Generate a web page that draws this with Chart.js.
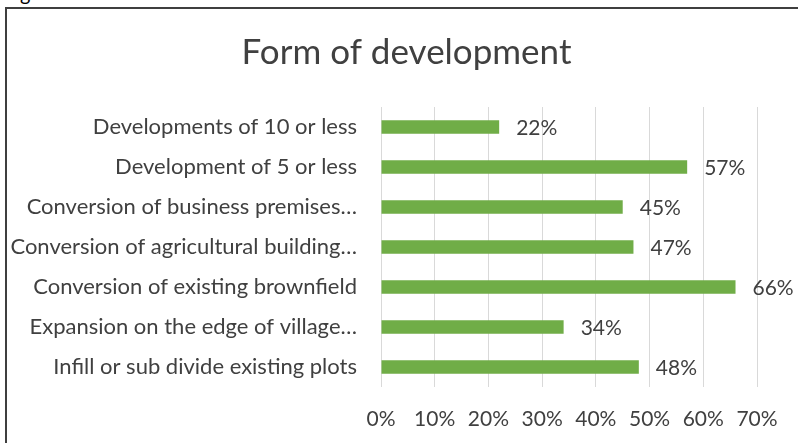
<!DOCTYPE html>
<html>
<head>
<meta charset="utf-8">
<script src="https://cdn.jsdelivr.net/npm/chart.js@4.4.1/dist/chart.umd.min.js"></script>
<style>
    html, body { margin: 0; padding: 0; background: #fff; overflow: hidden; }
    body { width: 798px; height: 443px; position: relative; }
    #frame {
        position: absolute; left: 5px; top: 7px; width: 820px; height: 460px;
        border: 2px solid #3f3f3f; box-sizing: border-box; pointer-events: none;
    }
    #caption {
        position: absolute; left: 20px; top: -19px; font-family: Lato, sans-serif;
        font-size: 20px; color: #000;
    }
    #formChart { position: absolute; left: 0; top: 0; }
</style>
</head>
<body>
<div id="caption">g</div>
<div id="frame"></div>
<canvas id="formChart" width="813" height="443"></canvas>
<script>
const categories = [
    "Developments of 10 or less",
    "Development of 5 or less",
    "Conversion of business premises…",
    "Conversion of agricultural building…",
    "Conversion of existing brownfield",
    "Expansion on the edge of village…",
    "Infill or sub divide existing plots"
];
const shares = [0.22, 0.57, 0.45, 0.47, 0.66, 0.34, 0.48];
const axisMax = 0.7;
const chartTitle = "Form of development";

const textColor = "#404040";
const fontFamily = "Lato, 'Open Sans', sans-serif";

// title centred on the whole frame, not just the padded area
const frameTitle = {
    id: "frameTitle",
    afterDraw(chart) {
        const ctx = chart.ctx;
        ctx.save();
        ctx.font = "35px " + fontFamily;
        ctx.fillStyle = textColor;
        ctx.textAlign = "center";
        ctx.textBaseline = "alphabetic";
        ctx.fillText(chartTitle, chart.width / 2, 64);
        ctx.restore();
    }
};

// writes the percentage just past the end of each bar
const valueLabels = {
    id: "valueLabels",
    afterDatasetsDraw(chart) {
        const ctx = chart.ctx;
        const meta = chart.getDatasetMeta(0);
        ctx.save();
        ctx.font = "21px " + fontFamily;
        ctx.fillStyle = textColor;
        ctx.textAlign = "left";
        ctx.textBaseline = "middle";
        meta.data.forEach((bar, i) => {
            ctx.fillText(Math.round(shares[i] * 100) + "%", bar.x + 17, bar.y + 1);
        });
        ctx.restore();
    }
};

const ctx = document.getElementById("formChart").getContext("2d");
const formChart = new Chart(ctx, {
    type: "bar",
    data: {
        labels: categories,
        datasets: [{
            data: shares,
            backgroundColor: "#70ad47",
            borderWidth: 0,
            barPercentage: 0.34,
            categoryPercentage: 1
        }]
    },
    options: {
        indexAxis: "y",
        responsive: false,
        animation: false,
        layout: { padding: { left: 0, right: 56, top: 107, bottom: 0 } },
        plugins: {
            legend: { display: false },
            tooltip: { enabled: false },
            title: { display: false }
        },
        scales: {
            x: {
                min: 0,
                max: axisMax,
                grid: { color: "#d9d9d9", drawTicks: false },
                border: { display: false },
                ticks: {
                    stepSize: 0.1,
                    padding: 20,
                    color: textColor,
                    font: { family: fontFamily, size: 21 },
                    callback: v => Math.round(v * 100) + "%"
                },
                afterFit: s => { s.height = 56; }
            },
            y: {
                grid: { display: false, drawTicks: false },
                border: { display: false },
                ticks: {
                    padding: 24,
                    color: textColor,
                    font: { family: fontFamily, size: 22 }
                },
                afterFit: s => { s.width = 381; }
            }
        }
    },
    plugins: [valueLabels, frameTitle]
});
</script>
</body>
</html>
